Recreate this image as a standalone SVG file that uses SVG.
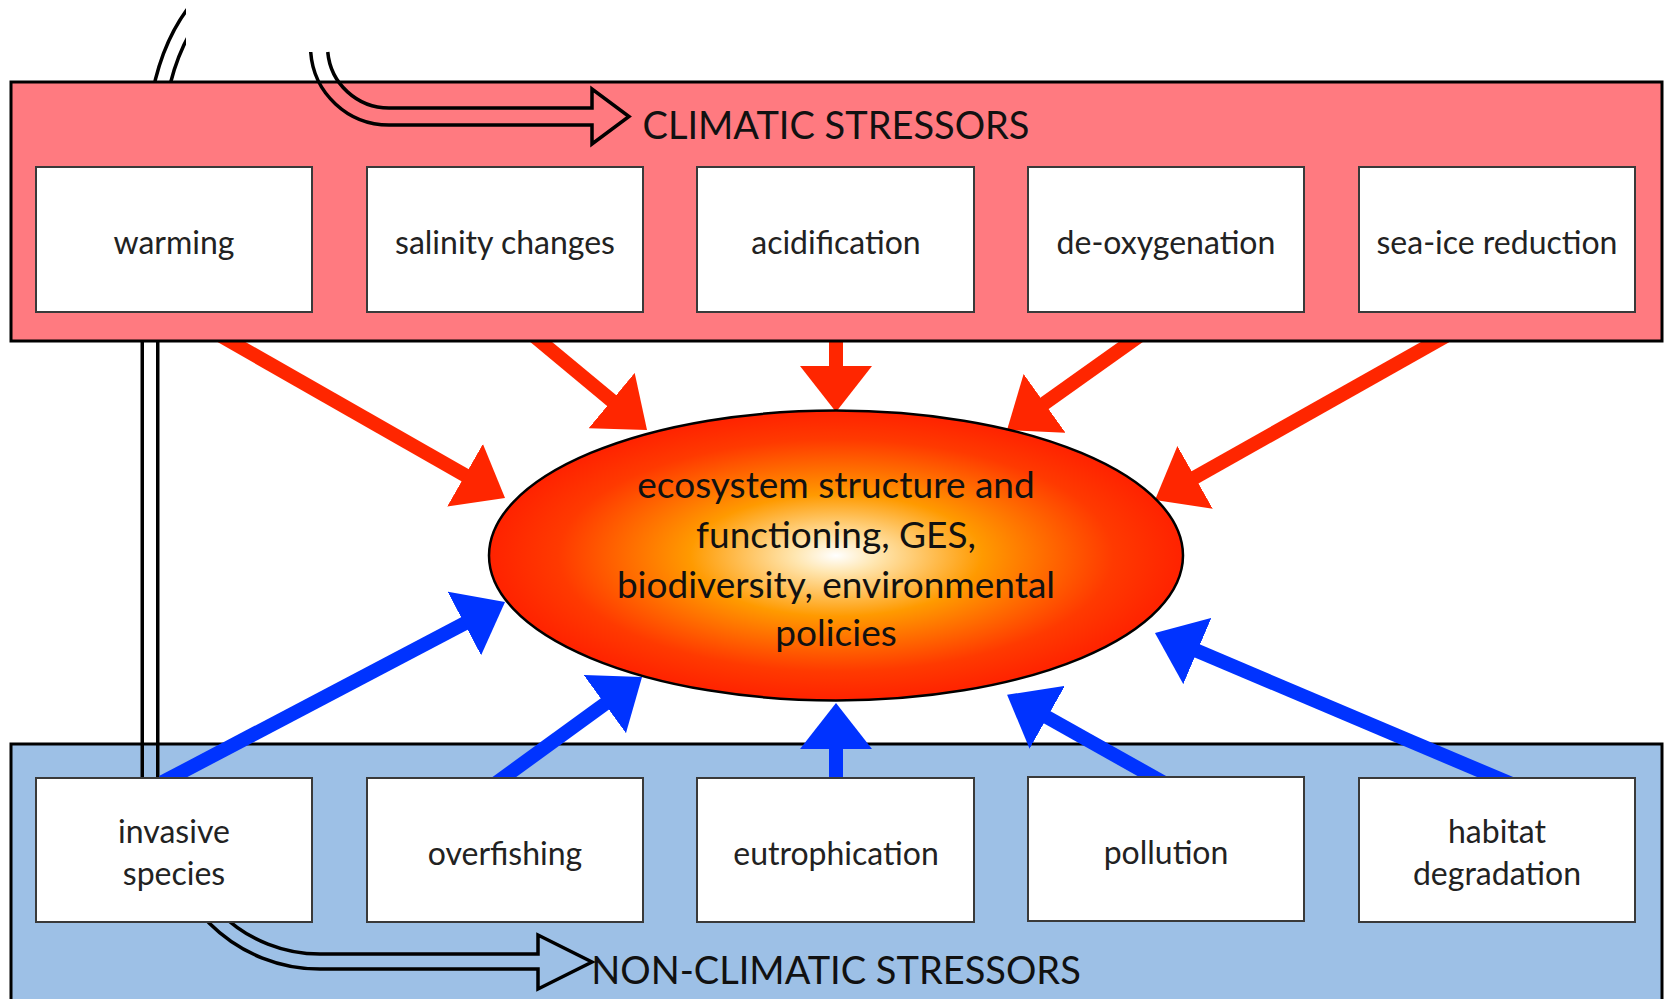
<svg xmlns="http://www.w3.org/2000/svg" width="1667" height="999" viewBox="0 0 1667 999">
<style>
.band-c{fill:#FF7A80;stroke:#000;stroke-width:3}
.band-n{fill:#9DC0E6;stroke:#000;stroke-width:3}
.box{fill:#fff;stroke:#3a3a3a;stroke-width:2}
.lbl{font-family:Lato,"Open Sans",sans-serif;font-size:32px;fill:#222;text-anchor:middle}
.title{font-size:38px;fill:#111}
.eco{font-size:37px;fill:#111}
.ra{stroke:#FF2600;stroke-width:14;fill:none;marker-end:url(#ahr)}
.ba{stroke:#0033FF;stroke-width:14;fill:none;marker-end:url(#ahb)}
.hollow{fill:none;stroke:#000;stroke-width:3.5;stroke-linejoin:miter}
</style>
<defs>
<marker id="ahr" markerUnits="userSpaceOnUse" viewBox="0 0 46 72" markerWidth="46" markerHeight="72" refX="21" refY="36" orient="auto"><path d="M0,0 L46,36 L0,72 Z" fill="#FF2600"/></marker>
<marker id="ahb" markerUnits="userSpaceOnUse" viewBox="0 0 46 72" markerWidth="46" markerHeight="72" refX="21" refY="36" orient="auto"><path d="M0,0 L46,36 L0,72 Z" fill="#0033FF"/></marker>
<radialGradient id="eg" cx="0.5" cy="0.5" r="0.5">
<stop offset="0" stop-color="#FFFFFF"/>
<stop offset="0.12" stop-color="#FFE6B0"/>
<stop offset="0.42" stop-color="#FF9A00"/>
<stop offset="0.8" stop-color="#FF3A00"/>
<stop offset="1" stop-color="#FF2200"/>
</radialGradient>
<mask id="loopMask" maskUnits="userSpaceOnUse" x="0" y="0" width="1667" height="999">
<path d="M150,790 L150,250 C150,120 158,50 205,0" fill="none" stroke="#fff" stroke-width="19"/>
<path d="M150,790 L150,250 C150,120 158,50 205,0" fill="none" stroke="#000" stroke-width="12"/>
<rect x="186" y="0" width="300" height="52" fill="#000"/>
</mask>
</defs>
<rect x="0" y="0" width="1667" height="999" fill="#fff"/>

<g id="non-climatic-band">
<rect class="band-n" x="11" y="744" width="1651" height="270"/>
</g>

<g id="feedback-loop-back">
<rect x="0" y="0" width="400" height="999" fill="#000" mask="url(#loopMask)"/>
</g>

<g id="connectors">
<path class="ra" d="M221,336 L483.3,485.6"/>
<path class="ra" d="M532.3,334.6 L627.8,414"/>
<path class="ra" d="M836,330 L836,387"/>
<path class="ra" d="M1140.2,335.2 L1027.4,415.5"/>
<path class="ra" d="M1445.7,336.1 L1176.8,487.7"/>
<path class="ba" d="M162.3,782.3 L482.9,613.7"/>
<path class="ba" d="M490.8,786.8 L621.8,691.7"/>
<path class="ba" d="M836,790 L836,728"/>
<path class="ba" d="M1176,789.6 L1028.9,707"/>
<path class="ba" d="M1513.4,784.8 L1178,642.8"/>
</g>

<g id="climatic-band">
<rect class="band-c" x="11" y="82" width="1651" height="259"/>
</g>

<g id="feedback-loop-front">
<path class="hollow" d="M310.7,52 A78.5,78.5 0 0 0 389,125 L592,125 L592,144 L629,116.5 L592,89 L592,108 L389,108 A61.5,61.5 0 0 1 327.75,52"/>
<path class="hollow" d="M163.5,812.6 A156.5,156.5 0 0 0 320,969.1 L538,969.1 L538,989 L592,962 L538,935 L538,954.1 L320,954.1 A141.5,141.5 0 0 1 178.5,812.6"/>
</g>

<g id="climatic-title"><text class="lbl title" x="836" y="139">CLIMATIC STRESSORS</text></g>

<g id="warming"><rect class="box" x="36" y="167" width="276" height="145"/><text class="lbl" x="174" y="254">warming</text></g>
<g id="salinity-changes"><rect class="box" x="367" y="167" width="276" height="145"/><text class="lbl" x="505" y="254">salinity changes</text></g>
<g id="acidification"><rect class="box" x="697" y="167" width="277" height="145"/><text class="lbl" x="836" y="254">acidification</text></g>
<g id="de-oxygenation"><rect class="box" x="1028" y="167" width="276" height="145"/><text class="lbl" x="1166" y="254">de-oxygenation</text></g>
<g id="sea-ice-reduction"><rect class="box" x="1359" y="167" width="276" height="145"/><text class="lbl" x="1497" y="254">sea-ice reduction</text></g>

<g id="invasive-species"><rect class="box" x="36" y="778" width="276" height="144"/><text class="lbl" x="174" y="843">invasive</text><text class="lbl" x="174" y="885">species</text></g>
<g id="overfishing"><rect class="box" x="367" y="778" width="276" height="144"/><text class="lbl" x="505" y="865">overfishing</text></g>
<g id="eutrophication"><rect class="box" x="697" y="778" width="277" height="144"/><text class="lbl" x="836" y="865">eutrophication</text></g>
<g id="pollution"><rect class="box" x="1028" y="777" width="276" height="144"/><text class="lbl" x="1166" y="864">pollution</text></g>
<g id="habitat-degradation"><rect class="box" x="1359" y="778" width="276" height="144"/><text class="lbl" x="1497" y="843">habitat</text><text class="lbl" x="1497" y="885">degradation</text></g>

<g id="non-climatic-title"><text class="lbl title" x="836" y="984">NON-CLIMATIC STRESSORS</text></g>

<g id="ecosystem">
<ellipse cx="836" cy="555.5" rx="347" ry="145" fill="url(#eg)" stroke="#000" stroke-width="2.5"/>
<text class="lbl eco" x="836" y="498">ecosystem structure and</text>
<text class="lbl eco" x="836" y="548">functioning, GES,</text>
<text class="lbl eco" x="836" y="598">biodiversity, environmental</text>
<text class="lbl eco" x="836" y="646">policies</text>
</g>
</svg>
